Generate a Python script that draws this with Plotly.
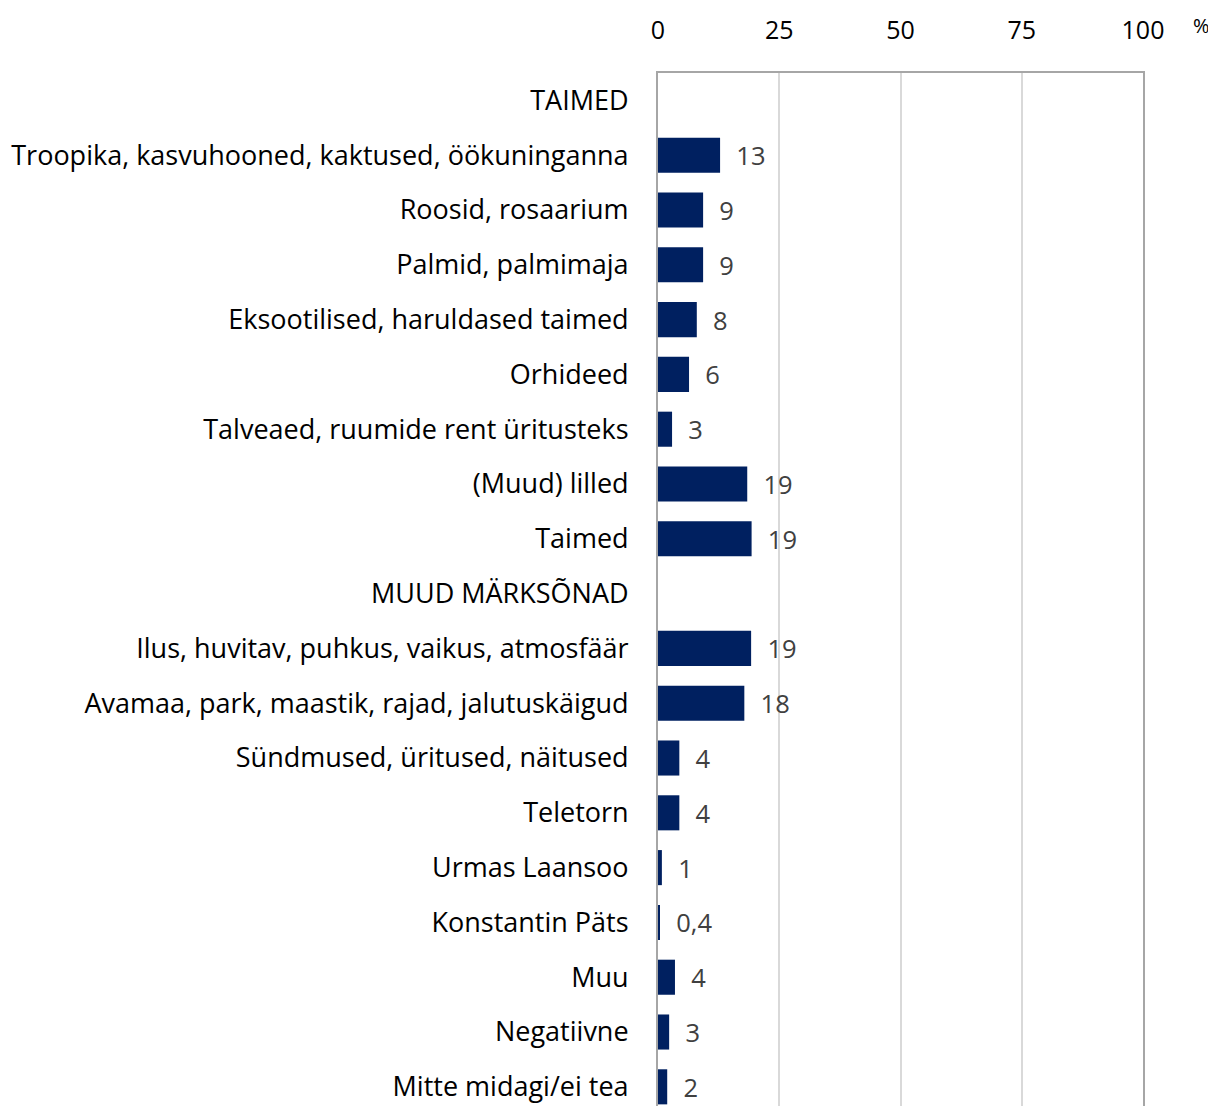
import plotly.graph_objects as go

# ── Data ────────────────────────────────────────────────────────────────────
CATEGORIES = [
    "TAIMED",
    "Troopika, kasvuhooned, kaktused, öökuninganna",
    "Roosid, rosaarium",
    "Palmid, palmimaja",
    "Eksootilised, haruldased taimed",
    "Orhideed",
    "Talveaed, ruumide rent üritusteks",
    "(Muud) lilled",
    "Taimed",
    "MUUD MÄRKSÕNAD",
    "Ilus, huvitav, puhkus, vaikus, atmosfäär",
    "Avamaa, park, maastik, rajad, jalutuskäigud",
    "Sündmused, üritused, näitused",
    "Teletorn",
    "Urmas Laansoo",
    "Konstantin Päts",
    "Muu",
    "Negatiivne",
    "Mitte midagi/ei tea",
]
VALUES = [None, 12.8, 9.3, 9.3, 8.0, 6.4, 2.9, 18.4, 19.3, None,
          19.2, 17.8, 4.4, 4.4, 0.8, 0.35, 3.5, 2.3, 1.9]
VALUE_LABELS = ["", "13", "9", "9", "8", "6", "3", "19", "19", "",
                "19", "18", "4", "4", "1", "0,4", "4", "3", "2"]
X_TICKS = [0, 25, 50, 75, 100]

# ── Styling ─────────────────────────────────────────────────────────────────
FONT = "'Open Sans', Lato, sans-serif"
BAR = "#002060"
FRAME = "#a6a6a6"
GRID = "#d9d9d9"
PAD = "\u00a0\u00a0"   # gap between bar end and value label

fig = go.Figure(
    go.Bar(
        y=CATEGORIES,
        x=VALUES,
        orientation="h",
        marker=dict(color=BAR, line=dict(width=0)),
        text=[PAD + t if t else "" for t in VALUE_LABELS],
        textposition="outside",
        textfont=dict(family=FONT, size=25.5, color="#404040"),
        cliponaxis=False,
        width=0.64,
        hovertemplate="%{y}: %{x}<extra></extra>",
    )
)

fig.update_layout(
    width=1208,
    height=1098,
    margin=dict(l=650, r=73, t=65, b=0, autoexpand=False),
    paper_bgcolor="white",
    plot_bgcolor="white",
    font=dict(family=FONT, size=24, color="#000000"),
    showlegend=False,
    xaxis=dict(
        side="top",
        range=[0, 100],
        tickvals=X_TICKS,
        ticktext=[str(v) for v in X_TICKS],
        showgrid=True,
        gridcolor=GRID,
        gridwidth=2,
        zeroline=False,
        showline=True,
        linecolor=FRAME,
        linewidth=2,
        ticks="",
        ticklabelstandoff=22,
        tickfont=dict(family=FONT, size=25, color="#000000"),
        automargin=False,
        fixedrange=True,
    ),
    yaxis=dict(
        categoryorder="array",
        categoryarray=CATEGORIES,
        range=[18.35, -0.5],
        showgrid=False,
        zeroline=False,
        showline=True,
        mirror=True,
        linecolor=FRAME,
        linewidth=2,
        ticks="",
        ticklabelstandoff=22,
        tickfont=dict(family=FONT, size=27, color="#000000"),
        automargin=False,
        fixedrange=True,
    ),
    annotations=[
        dict(
            text="%",
            xref="paper", yref="paper",
            x=1.1196, y=1.0, yshift=48,
            xanchor="center", yanchor="middle",
            showarrow=False,
            font=dict(family=FONT, size=20, color="#000000"),
        )
    ],
)

fig.write_html("out.html")
